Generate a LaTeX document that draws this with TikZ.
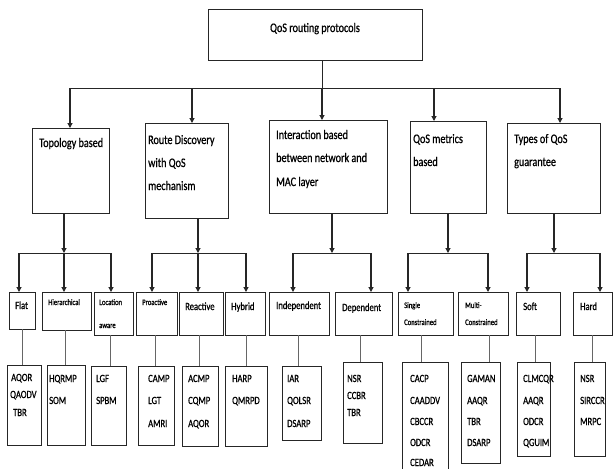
\documentclass[tikz,border=0pt]{standalone}
\usepackage{fontspec}
\setmainfont{Carlito}
\newfontfamily\cfont[FakeStretch=0.78,FakeBold=0.8]{Carlito}
\usetikzlibrary{arrows.meta}
\newcommand\bx[5]{\node[box, minimum width={(#4-#2)*1pt}, minimum height={(#5-#3)*1pt}] (#1) at ({(#2+#4)/2},{(#3+#5)/2}) {};}
\newcommand\tx[5]{\node[#4, anchor=base west] (#1) at (#2,#3) {#5};}
\newcommand\lk[3]{\coordinate (lk#2) at (#3,0); \draw[thinln] (#1.south -| lk#2) -- (#2.north -| lk#2);}
\begin{document}
\begin{tikzpicture}[x=1pt,y=-1pt,
  box/.style={draw=black!85, line width=0.9pt, inner sep=0pt, outer sep=0pt},
  ln/.style={draw=black!85, line width=1pt},
  arr/.style={draw=black!85, line width=1.1pt, -{Triangle[length=5pt,width=5pt]}},
  thinln/.style={draw=black!60, line width=0.7pt},
  ta/.style={inner sep=0pt, font=\cfont\fontsize{13}{15}\selectfont},
  tb/.style={inner sep=0pt, font=\cfont\fontsize{11}{13}\selectfont},
  tc/.style={inner sep=0pt, font=\cfont\fontsize{8.5}{10}\selectfont},
  td/.style={inner sep=0pt, font=\cfont\fontsize{11}{13}\selectfont}]
\useasboundingbox (0,0) rectangle (614,469);
\fill[white] (0,0) rectangle (614,469);
% root
\bx{root}{208}{9}{422}{60}
\node[ta, anchor=base] (roott) at (315,32) {QoS routing protocols};
% level 1
\bx{topo}{32}{128}{109}{213}
\bx{route}{145}{123}{228}{218}
\bx{inter}{269}{120}{387}{213}
\bx{metr}{410}{121}{486}{213}
\bx{types}{507}{123}{600}{213}
\tx{topot}{39}{147}{ta}{Topology based}
\tx{routea}{148}{144}{ta}{Route Discovery}
\tx{routeb}{148}{167}{ta}{with QoS}
\tx{routec}{148}{190}{ta}{mechanism}
\tx{intera}{276}{139}{ta}{Interaction based}
\tx{interb}{276}{162}{ta}{between network and}
\tx{interc}{276}{186}{ta}{MAC layer}
\tx{metra}{413}{143}{ta}{QoS metrics}
\tx{metrb}{413}{166}{ta}{based}
\tx{typesa}{514}{143}{ta}{Types of QoS}
\tx{typesb}{514}{166}{ta}{guarantee}
% top connectors
\coordinate (r0) at (322,88);
\coordinate (bL) at (70,88);
\coordinate (b2) at (192,88);
\coordinate (b4) at (434,88);
\coordinate (bR) at (560,88);
\draw[ln] (root.south -| r0) -- (r0);
\draw[ln] (bL) -- (bR);
\draw[arr] (bL) -- (bL |- topo.north);
\draw[arr] (b2) -- (b2 |- route.north);
\draw[arr] (r0) -- (r0 |- inter.north);
\draw[arr] (b4) -- (b4 |- metr.north);
\draw[arr] (bR) -- (bR |- types.north);
% level 2 boxes
\bx{flat}{9}{292}{35}{329}
\bx{hier}{42}{292}{91}{330}
\bx{loc}{94}{292}{133}{335}
\bx{pro}{136}{292}{177}{335}
\bx{rea}{179}{292}{223}{335}
\bx{hyb}{225}{292}{265}{335}
\bx{ind}{269}{292}{329}{335}
\bx{dep}{335}{292}{392}{335}
\bx{sgl}{398}{292}{453}{335}
\bx{mul}{458}{292}{508}{335}
\bx{soft}{516}{292}{560}{335}
\bx{hard}{573}{292}{612}{335}
\tx{flatt}{15}{309}{tb}{Flat}
\tx{hiert}{48}{305}{tc}{Hierarchical}
\tx{loct}{99}{305}{tc}{Location}
\tx{loctb}{99}{328}{tc}{aware}
\tx{prot}{142}{305}{tc}{Proactive}
\tx{reat}{185}{310}{tb}{Reactive}
\tx{hybt}{231}{310}{tb}{Hybrid}
\tx{indt}{276}{309}{tb}{Independent}
\tx{dept}{342}{311}{tb}{Dependent}
\tx{sglt}{404}{308}{tc}{Single}
\tx{sgltb}{404}{325}{tc}{Constrained}
\tx{mult}{465}{308}{tc}{Multi-}
\tx{multb}{465}{325}{tc}{Constrained}
\tx{softt}{523}{310}{tb}{Soft}
\tx{hardt}{580}{310}{tb}{Hard}
% level 1 -> level 2 connectors
\coordinate (g1) at (64,253); \coordinate (g1l) at (19,253); \coordinate (g1r) at (111,253);
\draw[arr] (topo.south -| g1) -- (g1);
\draw[ln] (g1l) -- (g1r);
\draw[arr] (g1l) -- (g1l |- flat.north);
\draw[arr] (g1) -- (g1 |- hier.north);
\draw[arr] (g1r) -- (g1r |- loc.north);
\coordinate (g2) at (198,253); \coordinate (g2l) at (152,253); \coordinate (g2r) at (246,253);
\draw[arr] (route.south -| g2) -- (g2);
\draw[ln] (g2l) -- (g2r);
\draw[arr] (g2l) -- (g2l |- pro.north);
\draw[arr] (g2) -- (g2 |- rea.north);
\draw[arr] (g2r) -- (g2r |- hyb.north);
\coordinate (g3) at (332,253); \coordinate (g3l) at (293,253); \coordinate (g3r) at (371,253);
\draw[arr] (inter.south -| g3) -- (g3);
\draw[ln] (g3l) -- (g3r);
\draw[arr] (g3l) -- (g3l |- ind.north);
\draw[arr] (g3r) -- (g3r |- dep.north);
\coordinate (g4) at (448,253); \coordinate (g4l) at (408,253); \coordinate (g4r) at (488,253);
\draw[arr] (metr.south -| g4) -- (g4);
\draw[ln] (g4l) -- (g4r);
\draw[arr] (g4l) -- (g4l |- sgl.north);
\draw[arr] (g4r) -- (g4r |- mul.north);
\coordinate (g5) at (554,253); \coordinate (g5l) at (527,253); \coordinate (g5r) at (600,253);
\draw[arr] (types.south -| g5) -- (g5);
\draw[ln] (g5l) -- (g5r);
\draw[arr] (g5l) -- (g5l |- soft.north);
\draw[arr] (g5r) -- (g5r |- hard.north);
% level 3 boxes
\bx{aqor}{7}{365}{41}{445}
\bx{hqrmp}{47}{365}{85}{445}
\bx{lgf}{91}{366}{126}{445}
\bx{camp}{138}{366}{174}{445}
\bx{acmp}{182}{366}{218}{446}
\bx{harp}{225}{366}{267}{446}
\bx{iar}{282}{366}{321}{440}
\bx{nsr}{343}{362}{382}{443}
\bx{cacp}{402}{362}{448}{480}
\bx{gaman}{461}{362}{500}{463}
\bx{clm}{517}{362}{550}{456}
\bx{nsrb}{574}{362}{605}{456}
\lk{flat}{aqor}{22}
\lk{hier}{hqrmp}{65}
\lk{loc}{lgf}{110}
\lk{pro}{camp}{155}
\lk{rea}{acmp}{199}
\lk{hyb}{harp}{246}
\lk{ind}{iar}{298}
\lk{dep}{nsr}{360}
\lk{sgl}{cacp}{421}
\lk{mul}{gaman}{489}
\lk{soft}{clm}{535}
\lk{hard}{nsrb}{592}
% level 3 texts
\tx{aqa}{11}{381}{td}{AQOR}
\tx{aqb}{10}{398}{td}{QAODV}
\tx{aqc}{13}{416}{td}{TBR}
\tx{hqa}{49}{382}{td}{HQRMP}
\tx{hqb}{49}{404}{td}{SOM}
\tx{lga}{96}{382}{td}{LGF}
\tx{lgb}{96}{404}{td}{SPBM}
\tx{caa}{148}{382}{td}{CAMP}
\tx{cab}{148}{404}{td}{LGT}
\tx{cac}{148}{427}{td}{AMRI}
\tx{aca}{188}{382}{td}{ACMP}
\tx{acb}{188}{404}{td}{CQMP}
\tx{acc}{188}{427}{td}{AQOR}
\tx{haa}{232}{382}{td}{HARP}
\tx{hab}{232}{404}{td}{QMRPD}
\tx{iaa}{287}{382}{td}{IAR}
\tx{iab}{287}{404}{td}{QOLSR}
\tx{iac}{287}{427}{td}{DSARP}
\tx{nsa}{347}{382}{td}{NSR}
\tx{nsb}{347}{399}{td}{CCBR}
\tx{nsc}{347}{416}{td}{TBR}
\tx{cpa}{410}{382}{td}{CACP}
\tx{cpb}{410}{404}{td}{CAADDV}
\tx{cpc}{410}{425}{td}{CBCCR}
\tx{cpd}{410}{446}{td}{ODCR}
\tx{cpe}{410}{466}{td}{CEDAR}
\tx{gaa}{467}{382}{td}{GAMAN}
\tx{gab}{467}{404}{td}{AAQR}
\tx{gac}{467}{425}{td}{TBR}
\tx{gad}{467}{446}{td}{DSARP}
\tx{cla}{523}{382}{td}{CLMCQR}
\tx{clb}{523}{404}{td}{AAQR}
\tx{clc}{523}{425}{td}{ODCR}
\tx{cld}{523}{446}{td}{QGUIM}
\tx{nra}{580}{382}{td}{NSR}
\tx{nrb}{580}{404}{td}{SIRCCR}
\tx{nrc}{580}{425}{td}{MRPC}
\end{tikzpicture}
\end{document}
